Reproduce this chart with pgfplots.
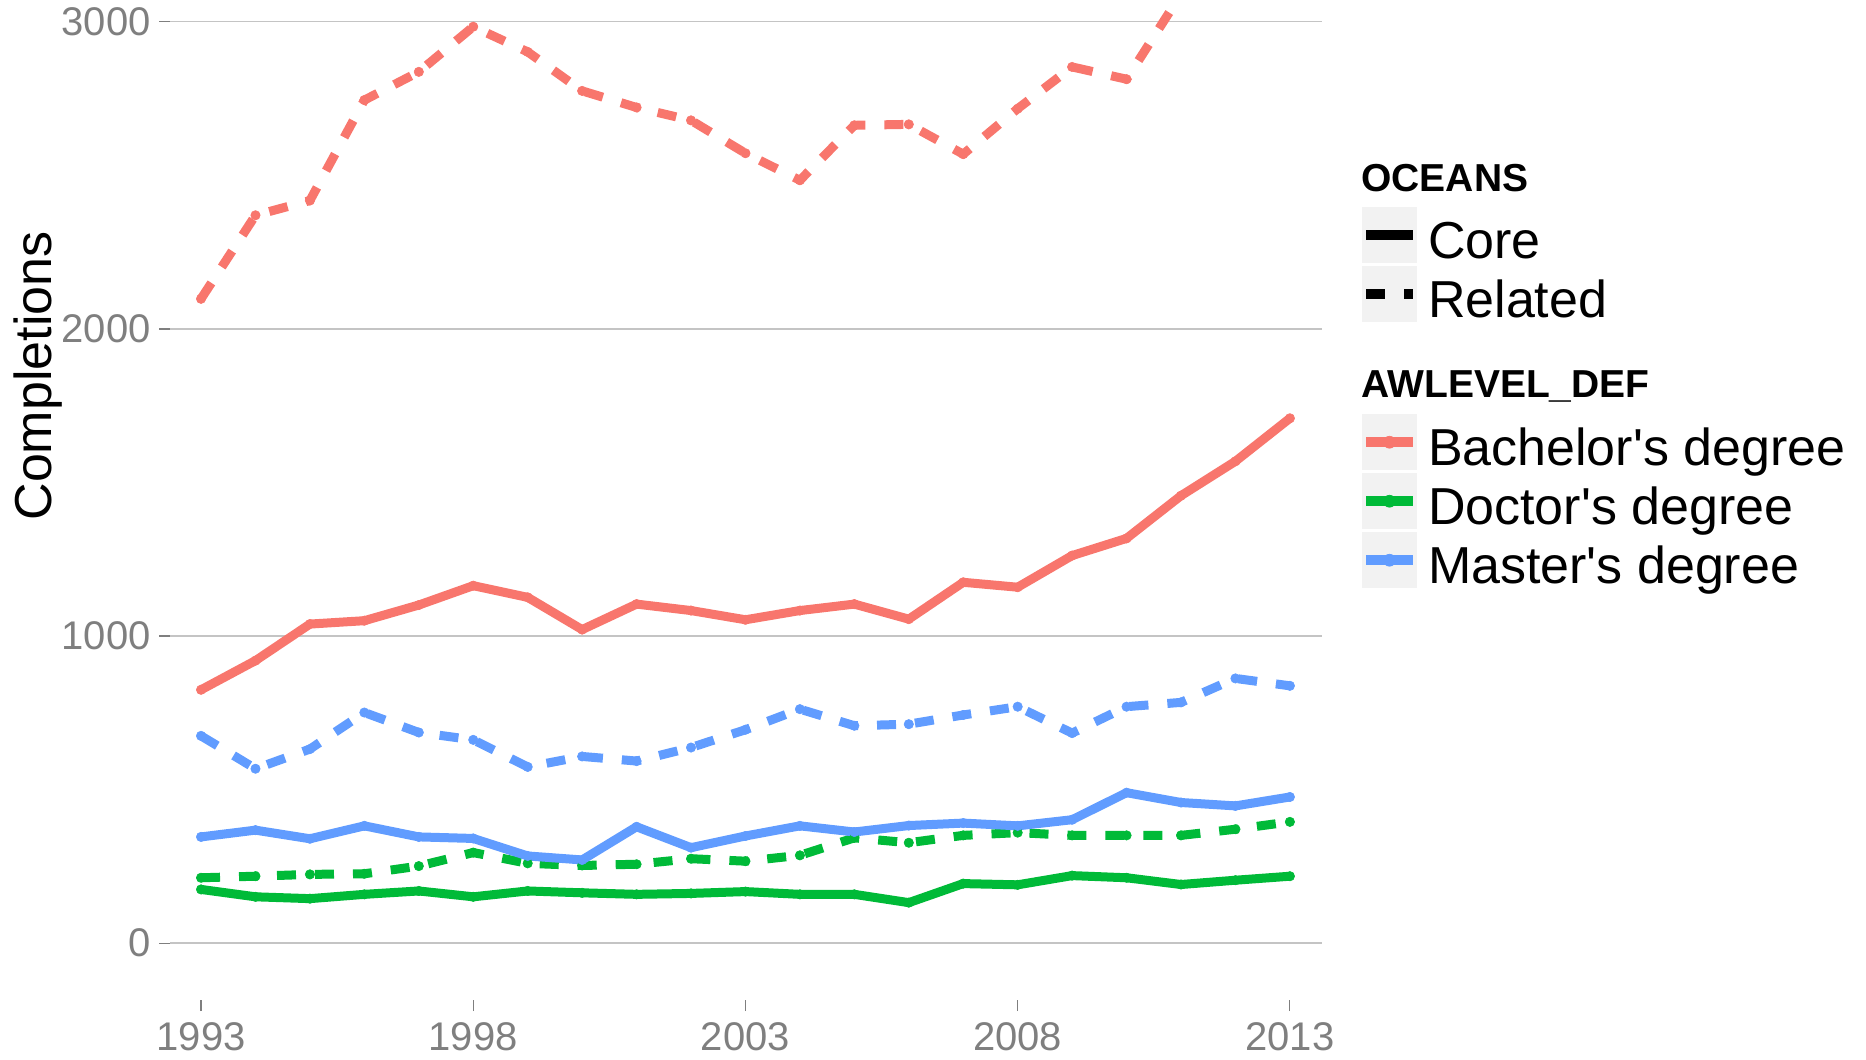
\documentclass[border=0pt]{standalone}
\usepackage{fontspec}
\setmainfont{Liberation Sans}[Ligatures=TeXOff]
\usepackage{pgfplots}
\pgfplotsset{compat=1.18}

\definecolor{bred}{HTML}{F8766D}
\definecolor{dgreen}{HTML}{00BA38}
\definecolor{mblue}{HTML}{619CFF}
\definecolor{gridc}{HTML}{C4C4C4}
\definecolor{tickc}{HTML}{7F7F7F}
\definecolor{keybg}{HTML}{F2F2F2}

% 1 px of the reference = 0.5pt
\pgfplotsset{
  keyimg/.style={
    legend image code/.code={
      \path[fill=keybg, draw=none, solid] (0pt,-14.125pt) rectangle (27.5pt,14.125pt);
      \draw[mark repeat=2, mark phase=2, ##1]
        plot coordinates {(2pt,0pt) (13.75pt,0pt) (25.5pt,0pt)};
    }
  },
  keylegend/.style={
    legend cell align=left,
    legend style={at={(#1)}, anchor=north west, draw=none, fill=none,
      inner sep=0pt, outer sep=0pt, row sep=1.25pt, /tikz/column sep=5pt,
      nodes={inner sep=0pt, text height=25pt, text depth=2pt,
        font=\fontsize{26}{26}\selectfont}},
  },
  core/.style={solid, line width=4.5pt, line join=round,
    mark=*, mark size=2.35pt, mark options={solid, line width=0.3pt}},
  rel/.style={core, dash pattern=on 9.5pt off 9.5pt},
}

\begin{document}
\begin{tikzpicture}
\begin{axis}[
  at={(85pt,29.5pt)}, anchor=south west,
  scale only axis, width=576pt, height=500pt,
  xmin=1992.43, xmax=2013.59, ymin=-185, ymax=3071,
  axis line style={draw=none},
  xtick={1993,1998,2003,2008,2013}, ytick={0,1000,2000,3000},
  ymajorgrids, grid style={gridc, line width=0.7pt},
  tick pos=left, tick align=outside, major tick length=5.5pt,
  tick style={tickc, line width=0.6pt},
  ticklabel style={font=\fontsize{20}{20}\selectfont, text=tickc},
  yticklabel style={inner xsep=4pt},
  xticklabel style={inner ysep=5.5pt},
  /pgf/number format/assume math mode=true,
  /pgf/number format/1000 sep={},
  ylabel={Completions},
  every axis y label/.style={at={(rel axis cs:-0.09288,0.624)}, rotate=90,
    anchor=south, inner sep=0pt,
    font=\fontsize{26}{26}\selectfont},
  keyimg, keylegend={1.03385,0.586},
]
% Bachelor's degree
\addplot[bred, core, forget plot] coordinates {
  (1993,825) (1994,920) (1995,1039) (1996,1050) (1997,1101) (1998,1164)
  (1999,1126) (2000,1021) (2001,1104) (2002,1083) (2003,1053) (2004,1083)
  (2005,1104) (2006,1055) (2007,1175) (2008,1159) (2009,1262) (2010,1318)
  (2011,1457) (2012,1569) (2013,1709)};
\addplot[bred, rel, forget plot] coordinates {
  (1993,2098) (1994,2370) (1995,2418) (1996,2745) (1997,2837) (1998,2984)
  (1999,2902) (2000,2775) (2001,2721) (2002,2679) (2003,2572) (2004,2484)
  (2005,2663) (2006,2666) (2007,2569) (2008,2717) (2009,2853) (2010,2813)
  (2011,3090) (2012,3300) (2013,3500)};
% Doctor's degree
\addplot[dgreen, core, forget plot] coordinates {
  (1993,175) (1994,151) (1995,145) (1996,159) (1997,170) (1998,151)
  (1999,170) (2000,164) (2001,159) (2002,162) (2003,168) (2004,159)
  (2005,159) (2006,132) (2007,194) (2008,190) (2009,220) (2010,213)
  (2011,191) (2012,205) (2013,218)};
\addplot[dgreen, rel, forget plot] coordinates {
  (1993,213) (1994,218) (1995,224) (1996,226) (1997,251) (1998,295)
  (1999,260) (2000,253) (2001,257) (2002,275) (2003,267) (2004,286)
  (2005,343) (2006,327) (2007,351) (2008,360) (2009,351) (2010,351)
  (2011,351) (2012,371) (2013,395)};
% Master's degree
\addplot[mblue, core, forget plot] coordinates {
  (1993,346) (1994,368) (1995,340) (1996,382) (1997,346) (1998,341)
  (1999,284) (2000,271) (2001,379) (2002,311) (2003,349) (2004,382)
  (2005,362) (2006,383) (2007,391) (2008,382) (2009,402) (2010,490)
  (2011,458) (2012,447) (2013,476)};
\addplot[mblue, rel, forget plot] coordinates {
  (1993,675) (1994,568) (1995,632) (1996,751) (1997,686) (1998,662)
  (1999,574) (2000,608) (2001,593) (2002,637) (2003,695) (2004,762)
  (2005,708) (2006,713) (2007,743) (2008,770) (2009,684) (2010,770)
  (2011,784) (2012,862) (2013,838)};

\addlegendimage{bred, line width=5pt, mark=*, mark size=3pt, mark options={line width=0.3pt}}
\addlegendentry{Bachelor's degree}
\addlegendimage{dgreen, line width=5pt, mark=*, mark size=3pt, mark options={line width=0.3pt}}
\addlegendentry{Doctor's degree}
\addlegendimage{mblue, line width=5pt, mark=*, mark size=3pt, mark options={line width=0.3pt}}
\addlegendentry{Master's degree}
\end{axis}

% second, empty axis carrying the line-type legend
\begin{axis}[
  at={(85pt,29.5pt)}, anchor=south west,
  scale only axis, width=576pt, height=500pt,
  xmin=0, xmax=1, ymin=0, ymax=1, hide axis,
  keyimg, keylegend={1.03385,0.793},
]
\addlegendimage{black, line width=5pt}
\addlegendentry{Core}
\addlegendimage{black, line width=5pt, dash pattern=on 9.5pt off 9.5pt}
\addlegendentry{Related}
\end{axis}

\node[anchor=base west, inner sep=0pt, font=\fontsize{19.5}{19.5}\bfseries\selectfont]
  at (680.5pt,433.5pt) {OCEANS};
\node[anchor=base west, inner sep=0pt, font=\fontsize{19.5}{19.5}\bfseries\selectfont]
  at (680.5pt,330.5pt) {AWLEVEL\_DEF};

\pgfresetboundingbox
\useasboundingbox (0,0) rectangle (933pt,529.5pt);
\end{tikzpicture}
\end{document}
